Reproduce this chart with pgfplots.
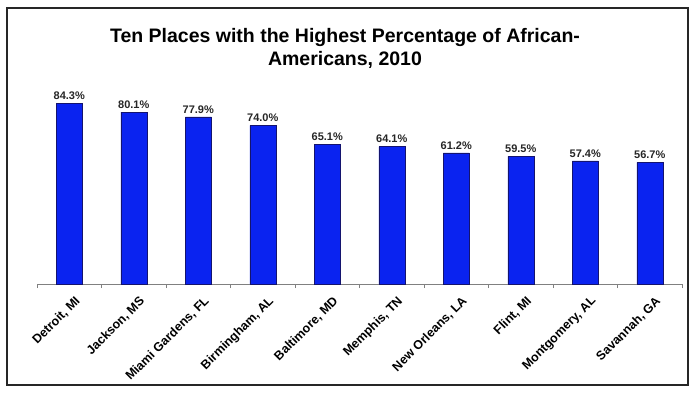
\documentclass[border=0pt]{standalone}
\usepackage{pgfplots}
\pgfplotsset{compat=1.18}
\usepackage{fontspec}
\setmainfont{Liberation Sans}
\definecolor{barblue}{RGB}{10,35,240}
\definecolor{baredge}{RGB}{20,20,110}
\begin{document}
\begin{tikzpicture}[x=1pt,y=1pt]
\path (0,0) rectangle (700,-394);
\draw[line width=1.2pt, black!85] (7,-8) rectangle (688,-385);
\node[font=\fontsize{19.5}{23}\selectfont\bfseries, align=center] at (345,-48) {Ten Places with the Highest Percentage of African-\\Americans, 2010};
\begin{axis}[
  at={(37pt,-284pt)}, anchor=south west,
  scale only axis, width=645pt, height=193pt,
  xmin=-0.5, xmax=9.5, ymin=0, ymax=90,
  axis y line=none, axis x line*=bottom,
  x axis line style={gray, line width=0.8pt, -},
  ybar, bar width=26pt,
  xtick={0,...,9},
  xticklabels={{Detroit, MI},{Jackson, MS},{Miami Gardens, FL},{Birmingham, AL},{Baltimore, MD},{Memphis, TN},{New Orleans, LA},{Flint, MI},{Montgomery, AL},{Savannah, GA}},
  major tick length=0pt,
  minor xtick={-0.5,0.5,...,9.5},
  minor tick length=4pt, tick align=outside,
  minor tick style={gray},
  x tick label style={rotate=45, anchor=north east, font=\fontsize{12.5}{14}\selectfont\bfseries, yshift=-8pt, xshift=-1pt},
  /pgf/number format/assume math mode=true,
  nodes near coords={\pgfmathprintnumber[fixed,precision=1,fixed zerofill]{\pgfplotspointmeta}\%},
  nodes near coords style={font=\fontsize{11}{13}\selectfont\bfseries, text=black!85, yshift=0pt},
  clip=false,
]
\addplot[fill=barblue, draw=baredge, line width=0.5pt] coordinates {
(0,84.3) (1,80.1) (2,77.9) (3,74.0) (4,65.1) (5,64.1) (6,61.2) (7,59.5) (8,57.4) (9,56.7)};
\end{axis}
\end{tikzpicture}
\end{document}
